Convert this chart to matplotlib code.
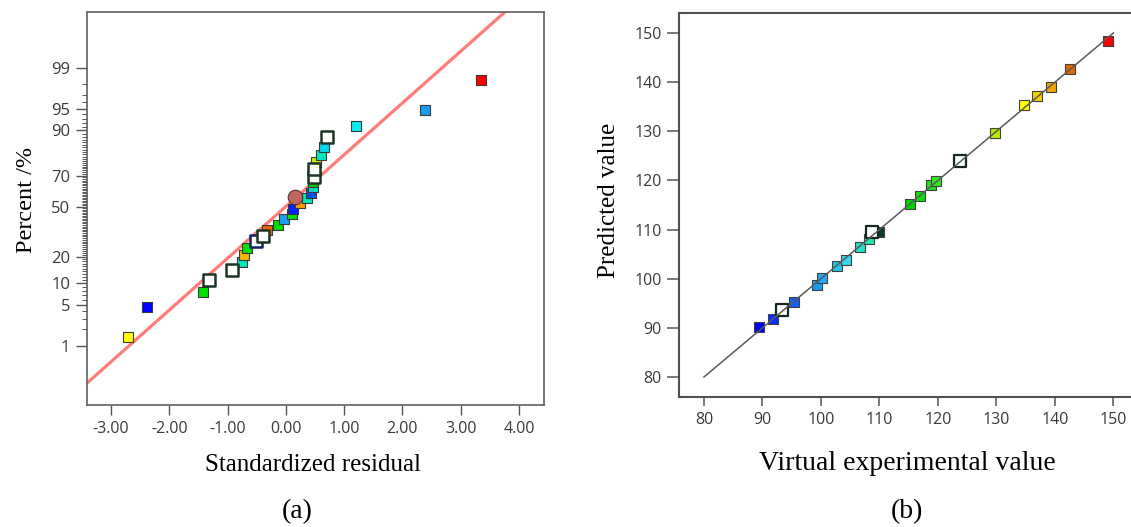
import numpy as np
import matplotlib
matplotlib.use('Agg')
import matplotlib.pyplot as plt
from matplotlib.ticker import FixedLocator, FormatStrFormatter
from statistics import NormalDist

plt.rcParams['font.family'] = ['Open Sans', 'DejaVu Sans']

# (a) normal plot of residuals
resid_x = [-2.71, -2.39, -1.43, -1.32, -0.93, -0.76, -0.71, -0.66, -0.51, -0.39,
           -0.32, -0.13, -0.03, 0.11, 0.13, 0.24, 0.36, 0.43, 0.47, 0.47,
           0.48, 0.49, 0.51, 0.60, 0.65, 0.70, 1.21, 2.39, 3.35]
resid_pct = [1.44, 4.6, 7.75, 11.0, 14.4, 17.8, 21.0, 24.5, 28.2, 31.2,
             34.9, 38.2, 41.9, 45.0, 48.5, 52.5, 55.9, 59.3, 62.8, 66.0,
             69.3, 73.7, 77.2, 80.7, 84.2, 87.8, 91.3, 94.8, 98.3]
# None = open square
resid_color = ['#ffff00', '#0000ff', '#00e000', None, None, '#00e8b8', '#f5b800', '#00e000', None, None,
               '#e86a00', '#00e000', '#1aa0f0', '#00e000', '#0022ff', '#ff9a00', '#00e8b8', '#0050f0', '#00e0c0', '#00cc00',
               None, None, '#c8f000', '#00e8c0', '#00d8f0', None, '#00f0f0', '#1a9ff0', '#ff0000']
open_edge = {8: '#14235a'}
circle_x, circle_pct = [0.16], [56.5]
fit_x = [-3.41, 4.43]
fit_pct = [0.158, 99.994]
pct_ticks = [1, 5, 10, 20, 50, 70, 90, 95, 99]
resid_ticks = [-3, -2, -1, 0, 1, 2, 3, 4]

# (b) predicted vs actual
actual = [89.4, 91.8, 93.4, 95.4, 99.3, 100.1, 102.7, 104.2, 106.7, 108.2, 108.8, 109.9,
          115.2, 116.9, 118.9, 119.6, 123.8, 129.8, 134.7, 136.9, 139.4, 142.6, 149.1]
predicted = [90.1, 91.8, 93.6, 95.3, 98.7, 100.2, 102.6, 103.8, 106.5, 108.0, 109.4, 109.4,
             115.1, 116.8, 119.0, 119.9, 123.9, 129.6, 135.3, 137.1, 139.1, 142.6, 148.3]
pred_color = ['#0000ff', '#0a2cff', None, '#1060ff', '#1a9cf5', '#22aaf5', '#22c4e6', '#33d6ec',
              '#22e0cc', '#22e8b0', None, '#0b3a28', '#00d600', '#10dc10', '#20e020', '#30e820',
              None, '#b5ec00', '#ffff00', '#f2d200', '#f0a400', '#e06a00', '#ff0000']
ref_x = [80, 150]
ref_y = [80, 150]
val_ticks = [80, 90, 100, 110, 120, 130, 140, 150]

_nd = NormalDist()


def pct_to_z(p):
    p = np.clip(np.asarray(p, dtype=float), 1e-6, 100 - 1e-6)
    return np.vectorize(lambda v: _nd.inv_cdf(v / 100.0), otypes=[float])(p)


def z_to_pct(z):
    z = np.asarray(z, dtype=float)
    return np.vectorize(lambda v: _nd.cdf(v) * 100.0, otypes=[float])(z)


serif = 'Liberation Serif'
tick_col = '#3a3a3a'

fig = plt.figure(figsize=(11.31, 5.27), dpi=100)

###########################################################
ax1 = fig.add_axes([0.0769, 0.2315, 0.4041, 0.7457])
ax1.set_yscale('function', functions=(pct_to_z, z_to_pct))
ax1.plot(fit_x, fit_pct, color='#ff7c78', lw=2.3, zorder=2, solid_capstyle='butt')

for i in range(len(resid_x)):
    c = resid_color[i]
    if c is None:
        ax1.scatter(resid_x[i], resid_pct[i], marker='s', s=85, facecolor='white',
                    edgecolor=open_edge.get(i, '#1d3527'), linewidth=1.8, zorder=4)
    else:
        ax1.scatter(resid_x[i], resid_pct[i], marker='s', s=52, facecolor=c,
                    edgecolor='#3a3a3a', linewidth=0.8, zorder=3)
ax1.scatter(circle_x, circle_pct, marker='o', s=110, facecolor='#c0645e',
            edgecolor='#5a3030', linewidth=0.8, zorder=3.5)

ax1.set_xlim(-3.412, 4.429)
ax1.set_ylim(0.045, 99.945)
ax1.set_xticks(resid_ticks)
ax1.set_xticklabels(['%.2f' % v for v in resid_ticks])
ax1.yaxis.set_major_locator(FixedLocator(pct_ticks))
ax1.yaxis.set_major_formatter(FormatStrFormatter('%g'))
ax1.yaxis.set_minor_locator(FixedLocator([v for v in range(1, 100) if v not in pct_ticks]))
ax1.tick_params(axis='x', direction='out', length=7.5, width=1, color='#555555',
                labelsize=11.5, labelcolor=tick_col, pad=4)
ax1.tick_params(axis='y', which='major', direction='out', length=8, width=1, color='#555555',
                labelsize=12, labelcolor=tick_col, pad=4)
ax1.tick_params(axis='y', which='minor', direction='out', length=3.8, width=0.7, color='#555555')
for sp in ax1.spines.values():
    sp.set_color('#606060')
    sp.set_linewidth(1.2)

ax1.set_xlabel('Standardized residual', fontsize=18, family=serif, va='center')
ax1.xaxis.set_label_coords(0.4945, -0.153)
ax1.set_ylabel('Percent /%', fontsize=17.5, family=serif, va='center')
ax1.yaxis.set_label_coords(-0.1313, 0.5216)

###########################################################
ax2 = fig.add_axes([0.6003, 0.2467, 0.41, 0.7287])
ax2.plot(ref_x, ref_y, color='#5a5a5a', lw=1.1, zorder=4)
for i in range(len(actual)):
    c = pred_color[i]
    if c is None:
        ax2.scatter(actual[i], predicted[i], marker='s', s=66, facecolor='white',
                    edgecolor='#15281d', linewidth=1.6, zorder=3)
    else:
        ax2.scatter(actual[i], predicted[i], marker='s', s=44, facecolor=c,
                    edgecolor='#404040', linewidth=0.8, zorder=2)

ax2.set_xlim(75.72, 155.0)
ax2.set_ylim(75.93, 154.07)
ax2.set_xticks(val_ticks)
ax2.set_yticks(val_ticks)
ax2.tick_params(axis='x', direction='out', length=6.5, width=1.1, color='#555555',
                labelsize=11.5, labelcolor=tick_col, pad=4)
ax2.tick_params(axis='y', direction='out', length=9, width=1.1, color='#555555',
                labelsize=11.5, labelcolor=tick_col, pad=3.5)
for sp in ax2.spines.values():
    sp.set_color('#505050')
    sp.set_linewidth(1.5)

ax2.set_xlabel('Virtual experimental value', fontsize=20, family=serif, va='center')
ax2.xaxis.set_label_coords(0.492, -0.172)
ax2.set_ylabel('Predicted value', fontsize=18, family=serif, va='center')
ax2.yaxis.set_label_coords(-0.151, 0.513)

fig.text(0.2626, 0.0285, '(a)', fontsize=20, family=serif, ha='center', va='center')
fig.text(0.802, 0.0285, '(b)', fontsize=20, family=serif, ha='center', va='center')

fig.savefig('out.png', dpi=100)
plt.close()
